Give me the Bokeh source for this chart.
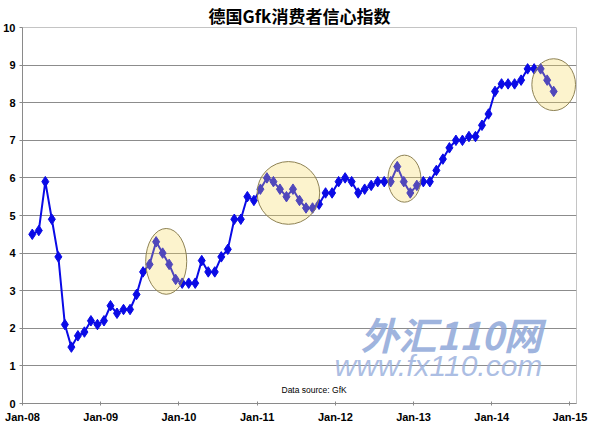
from bokeh.plotting import figure
from bokeh.models import FixedTicker, Label, ColumnDataSource
from bokeh.embed import file_html
from bokeh.resources import INLINE

# ---- data ----
title_text = "德国Gfk消费者信心指数"
start_year, start_month = 2008, 2          # first observation: Feb-08
values = [4.5, 4.6, 5.9, 4.9, 3.9, 2.1, 1.5, 1.8, 1.9, 2.2,
          2.1, 2.2, 2.6, 2.4, 2.5, 2.5, 2.9, 3.5, 3.7, 4.3,
          4.0, 3.7, 3.3, 3.2, 3.2, 3.2, 3.8, 3.5, 3.5, 3.9,
          4.1, 4.9, 4.9, 5.5, 5.4, 5.7, 6.0, 5.9, 5.7, 5.5,
          5.7, 5.4, 5.2, 5.2, 5.3, 5.6, 5.6, 5.9, 6.0, 5.9,
          5.6, 5.7, 5.8, 5.9, 5.9, 5.9, 6.3, 5.9, 5.6, 5.8,
          5.9, 5.9, 6.2, 6.5, 6.8, 7.0, 7.0, 7.1, 7.1, 7.4,
          7.7, 8.3, 8.5, 8.5, 8.5, 8.6, 8.9, 8.9, 8.9, 8.6, 8.3]
tick_labels = ["Jan-08", "Jan-09", "Jan-10", "Jan-11", "Jan-12", "Jan-13", "Jan-14", "Jan-15"]
y_ticks = [0, 1, 2, 3, 4, 5, 6, 7, 8, 9, 10]
# highlighted regions (center in months since Jan-08, value; size in months, value units)
hl_x = [22.05, 40.8, 58.6, 81.5]
hl_y = [3.78, 5.6, 5.98, 8.48]
hl_w = [6.3, 9.6, 5.05, 6.7]
hl_h = [1.75, 1.67, 1.25, 1.38]
source_note = "Data source: GfK"
wm_cn = "外汇110网"
wm_url = "www.fx110.com"

# months since Jan 2008, observation placed mid-month
base = (start_year - 2008) * 12 + (start_month - 1)
xs = [base + i + 0.5 for i in range(len(values))]
tick_pos = [12 * i for i in range(len(tick_labels))]

src = ColumnDataSource(dict(x=xs, y=values))

p = figure(frame_width=554, frame_height=376,
           x_range=(0, 85), y_range=(0, 10),
           output_backend="svg", toolbar_location=None,
           min_border_left=22, min_border_right=16,
           min_border_top=0, min_border_bottom=16)
p.background_fill_color = "white"
p.border_fill_color = "white"
p.outline_line_color = "#C4C4C4"
p.outline_line_width = 1

p.title.text = title_text
p.title.text_font = "Noto Sans CJK SC"
p.title.text_font_style = "bold"
p.title.text_font_size = "17px"
p.title.text_color = "black"
p.title.align = "center"
p.title.standoff = 0

# axes
p.xaxis.ticker = FixedTicker(ticks=tick_pos)
p.xaxis.major_label_overrides = {t: l for t, l in zip(tick_pos, tick_labels)}
p.yaxis.ticker = FixedTicker(ticks=y_ticks)
for ax in (p.xaxis[0], p.yaxis[0]):
    ax.axis_line_color = "#8A8A8A"
    ax.major_tick_line_color = "#8A8A8A"
    ax.minor_tick_line_color = None
    ax.major_label_text_font = "Liberation Sans"
    ax.major_label_text_font_style = "bold"
    ax.major_label_text_font_size = "11px"
    ax.major_label_text_color = "black"
p.xaxis.major_tick_in = 2
p.xaxis.major_tick_out = 2
p.xaxis.major_label_standoff = 5
p.yaxis.major_tick_in = 0
p.yaxis.major_tick_out = 3
p.yaxis.major_label_standoff = 4

p.xgrid.grid_line_color = None
p.ygrid.ticker = FixedTicker(ticks=y_ticks[1:-1])
p.ygrid.grid_line_color = "#8C8C8C"
p.ygrid.grid_line_width = 1

# series
p.line("x", "y", source=src, line_color="#0A0AE6", line_width=2)
p.scatter("x", "y", source=src, marker="diamond", size=10.5,
          fill_color="#0A0AE6", line_color="#0A0AE6")

# highlight ellipses (semi-transparent, over the series)
p.ellipse(x=hl_x, y=hl_y, width=hl_w, height=hl_h,
          fill_color="#F5D758", fill_alpha=0.3,
          line_color="#8E8254", line_width=1)

# watermark
p.add_layout(Label(x=338, y=70, x_units="screen", y_units="screen", text=wm_cn,
                   text_font="Noto Sans CJK SC", text_font_style="bold italic",
                   text_font_size="38px", text_color="#8EA7D8", text_alpha=0.85,
                   text_align="left", text_baseline="middle"))
p.add_layout(Label(x=312, y=38, x_units="screen", y_units="screen", text=wm_url,
                   text_font="Liberation Sans", text_font_style="italic",
                   text_font_size="30px", text_color="#9DB3DE", text_alpha=0.85,
                   text_align="left", text_baseline="middle"))
# source note
p.add_layout(Label(x=259, y=14, x_units="screen", y_units="screen", text=source_note,
                   text_font="Liberation Sans", text_font_size="8.5px",
                   text_color="black", text_align="left", text_baseline="middle"))

open("out.html", "w").write(file_html(p, INLINE))
